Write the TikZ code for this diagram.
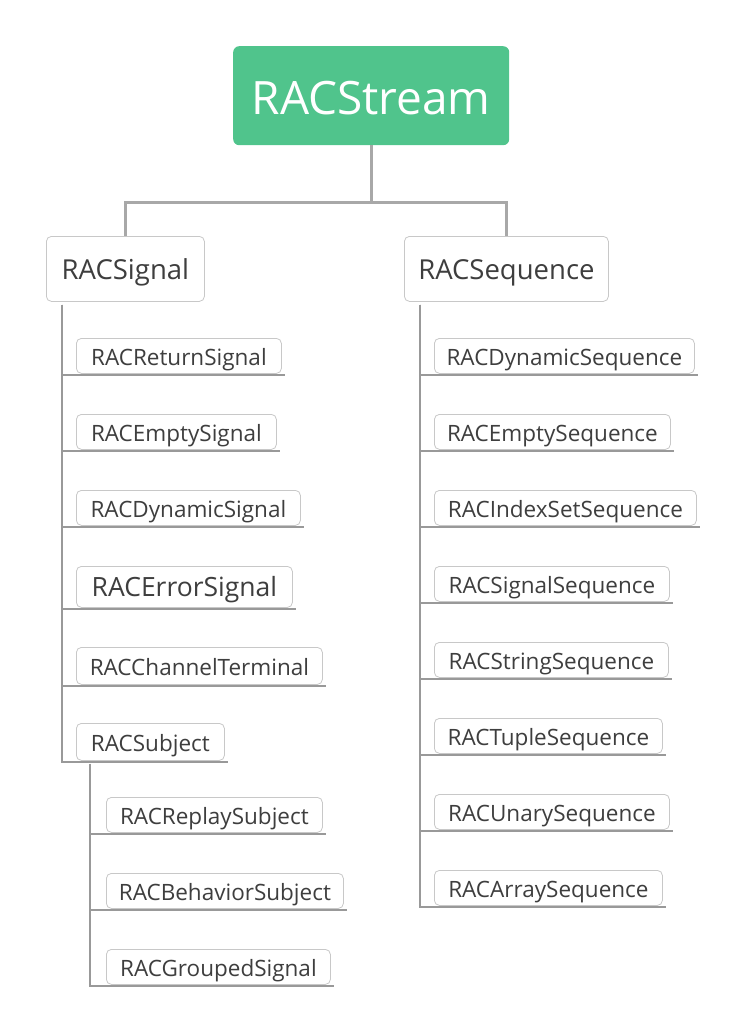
\documentclass[tikz,border=0pt]{standalone}
\usepackage{fontspec}
\setmainfont{Open Sans}
\usetikzlibrary{calc}
\definecolor{rgreen}{HTML}{50C48C}
\definecolor{boxgray}{HTML}{C8C8C8}
\definecolor{txt}{HTML}{3E3E3E}
\definecolor{trunkgray}{HTML}{A8A8A8}
\definecolor{branchgray}{HTML}{999999}
\begin{document}
\begin{tikzpicture}[x=1pt,y=-1pt,
  root/.style={fill=rgreen, rounded corners=6pt, anchor=north west, inner sep=0pt, text=white, text height=38.4pt, text depth=0pt, font=\fontsize{46}{52}\selectfont},
  lvone/.style={draw=boxgray, line width=0.8pt, rounded corners=5pt, fill=white, anchor=north west, inner sep=0pt, text=txt, minimum height=65, text height=20.2pt, text depth=0pt, font=\fontsize{27.5}{32}\selectfont},
  leaf/.style={draw=boxgray, line width=0.8pt, rounded corners=5pt, fill=white, anchor=north west, inner sep=0pt, text=txt, minimum height=35, text height=19.5pt, text depth=0pt, font=\fontsize{22.5}{27}\selectfont},
  bigleaf/.style={leaf, minimum height=41, text height=19.9pt, font=\fontsize{26.5}{31}\selectfont},
  trunk/.style={draw=trunkgray, line width=3pt},
  branch/.style={draw=branchgray, line width=1.5pt}]
\useasboundingbox (0,0) rectangle (745,1035);

\node[root, minimum width=276, minimum height=99] (root) at (233,46) {RACStream};
\node[lvone, minimum width=158] (sig) at (46,236) {RACSignal};
\node[lvone, minimum width=204] (seq) at (404,236) {RACSequence};

\draw[trunk] (root.south) -- ++(0,57) -| (sig.north);
\draw[trunk] (root.south) -- ++(0,57) -| (seq.north);

% RACSignal children
\node[leaf, minimum width=205] (s1) at (76,338) {RACReturnSignal};
\node[leaf, minimum width=200] (s2) at (76,414) {RACEmptySignal};
\node[leaf, minimum width=224] (s3) at (76,490) {RACDynamicSignal};
\node[bigleaf, minimum width=216] (s4) at (76,566) {RACErrorSignal};
\node[leaf, minimum width=246, minimum height=37] (s5) at (76,647) {RACChannelTerminal};
\node[leaf, minimum width=148, minimum height=37] (s6) at (76,723) {RACSubject};

\coordinate (sigT) at ($(sig.south west)+(16,3)$);
\foreach \c in {s1,s2,s3,s4,s5,s6}
  \draw[branch] (sigT) |- ($(\c.south east)+(3,1)$);

% RACSubject children
\node[leaf, minimum width=216] (u1) at (106,797) {RACReplaySubject};
\node[leaf, minimum width=237] (u2) at (106,873) {RACBehaviorSubject};
\node[leaf, minimum width=224] (u3) at (106,949) {RACGroupedSignal};

\coordinate (subT) at ($(s6.south west)+(14,3)$);
\foreach \c in {u1,u2,u3}
  \draw[branch] (subT) |- ($(\c.south east)+(3,1)$);

% RACSequence children
\node[leaf, minimum width=260] (q1) at (434,338) {RACDynamicSequence};
\node[leaf, minimum width=236] (q2) at (434,414) {RACEmptySequence};
\node[leaf, minimum width=262] (q3) at (434,490) {RACIndexSetSequence};
\node[leaf, minimum width=235] (q4) at (434,566) {RACSignalSequence};
\node[leaf, minimum width=234] (q5) at (434,642) {RACStringSequence};
\node[leaf, minimum width=228] (q6) at (434,718) {RACTupleSequence};
\node[leaf, minimum width=235] (q7) at (434,794) {RACUnarySequence};
\node[leaf, minimum width=228] (q8) at (434,870) {RACArraySequence};

\coordinate (seqT) at ($(seq.south west)+(16,3)$);
\foreach \c in {q1,q2,q3,q4,q5,q6,q7,q8}
  \draw[branch] (seqT) |- ($(\c.south east)+(3,1)$);
\end{tikzpicture}
\end{document}
